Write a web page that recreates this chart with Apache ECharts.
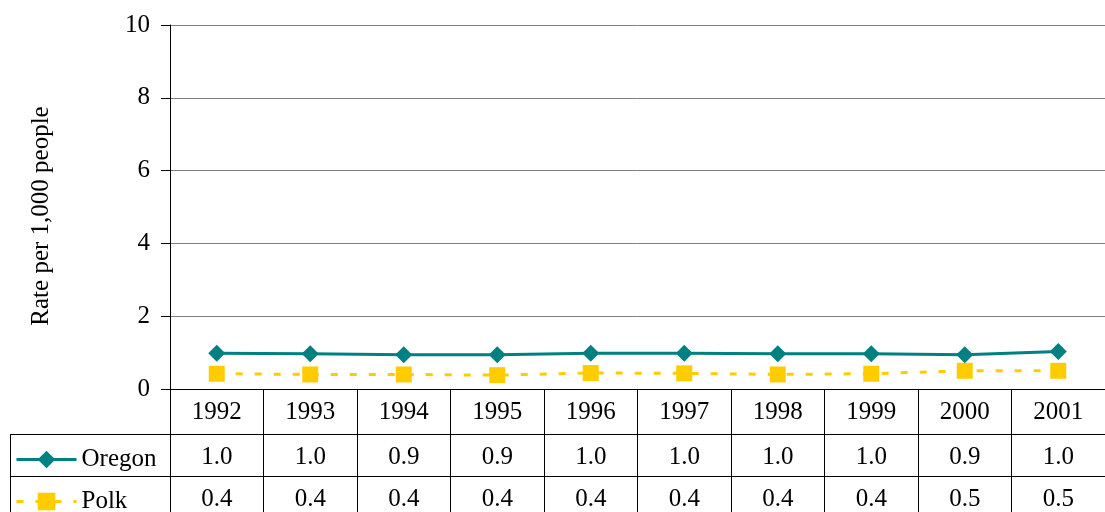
<!DOCTYPE html>
<html><head><meta charset="utf-8">
<script src="https://cdn.jsdelivr.net/npm/echarts@6/dist/echarts.min.js"></script>
<style>html,body{margin:0;padding:0;background:#fff}#c{width:1105px;height:512px}</style>
</head><body><div id="c"></div>
<script>
var years = ['1992','1993','1994','1995','1996','1997','1998','1999','2000','2001'];
var oregon = [0.98,0.97,0.94,0.94,0.98,0.98,0.97,0.97,0.94,1.03];
var polk = [0.42,0.40,0.40,0.38,0.44,0.43,0.40,0.42,0.50,0.50];
var yTicks = [0,2,4,6,8,10];
var yTitle = 'Rate per 1,000 people';

var FONT = '"Liberation Serif","Times New Roman",serif';
var FS = 25;
var TEAL = '#008080', GOLD = '#FFCC00';
var chart = echarts.init(document.getElementById('c'));
function rowAxis(offset, tickLen, labels){
  return {
    type:'category', data: years, position:'bottom', offset: offset, boundaryGap:true,
    axisLine:{show:true, lineStyle:{color:'#000', width:1}},
    axisTick:{show:true, interval:0, length:tickLen, lineStyle:{color:'#000', width:1}},
    axisLabel:{interval:0, margin:23, verticalAlign:'middle', fontSize:FS, color:'#000', fontFamily:FONT,
      formatter:function(v, i){ return labels ? labels[i] : v; }},
    splitLine:{show:false}
  };
}
function legendFor(name, top){
  return {
    orient:'horizontal', left:10, top:top, itemWidth:60, itemHeight:22, itemGap:0,
    lineStyle:{width:3},
    textStyle:{fontSize:FS, color:'#000', fontFamily:FONT, padding:[0,0,0,0]},
    data:[name]
  };
}
chart.setOption({
  backgroundColor:'#fff',
  animation:false,
  grid:{left:170, top:25, width:948, height:364, containLabel:false},
  legend:[ legendFor('Oregon', 442), legendFor('Polk', 484) ],
  xAxis:[
    rowAxis(0, 45, null),
    rowAxis(45, 42, oregon.map(function(v){return v.toFixed(1);})),
    rowAxis(87, 40, polk.map(function(v){return v.toFixed(1);}))
  ],
  yAxis:{
    type:'value', min:0, max:10, interval:2,
    axisLine:{show:true, lineStyle:{color:'#000', width:1}},
    axisTick:{show:true, length:9, lineStyle:{color:'#000'}},
    axisLabel:{margin:20, fontSize:FS, color:'#000', fontFamily:FONT,
      formatter:function(v){ return yTicks.indexOf(v) >= 0 ? String(v) : ''; }},
    splitLine:{show:true, lineStyle:{color:'#808080', width:1}}
  },
  graphic:[
    {type:'text', x:41, y:216, rotation:Math.PI/2,
      style:{text:yTitle, font:FS + 'px ' + FONT, fill:'#000', textAlign:'center', textVerticalAlign:'middle'}},
    {type:'line', shape:{x1:10, y1:434.5, x2:170, y2:434.5}, style:{stroke:'#000', lineWidth:1}},
    {type:'line', shape:{x1:10, y1:476.5, x2:170, y2:476.5}, style:{stroke:'#000', lineWidth:1}},
    {type:'line', shape:{x1:10.5, y1:434, x2:10.5, y2:512}, style:{stroke:'#000', lineWidth:1}}
  ],
  series:[
    {name:'Oregon', type:'line', data: oregon, symbol:'diamond', symbolSize:[17,17],
      lineStyle:{color:TEAL, width:3}, itemStyle:{color:TEAL}, z:3},
    {name:'Polk', type:'line', data: polk, symbol:'rect', symbolSize:[16,16],
      lineStyle:{color:GOLD, width:3, type:[7,12]}, itemStyle:{color:GOLD}, z:2}
  ]
});
</script></body></html>
